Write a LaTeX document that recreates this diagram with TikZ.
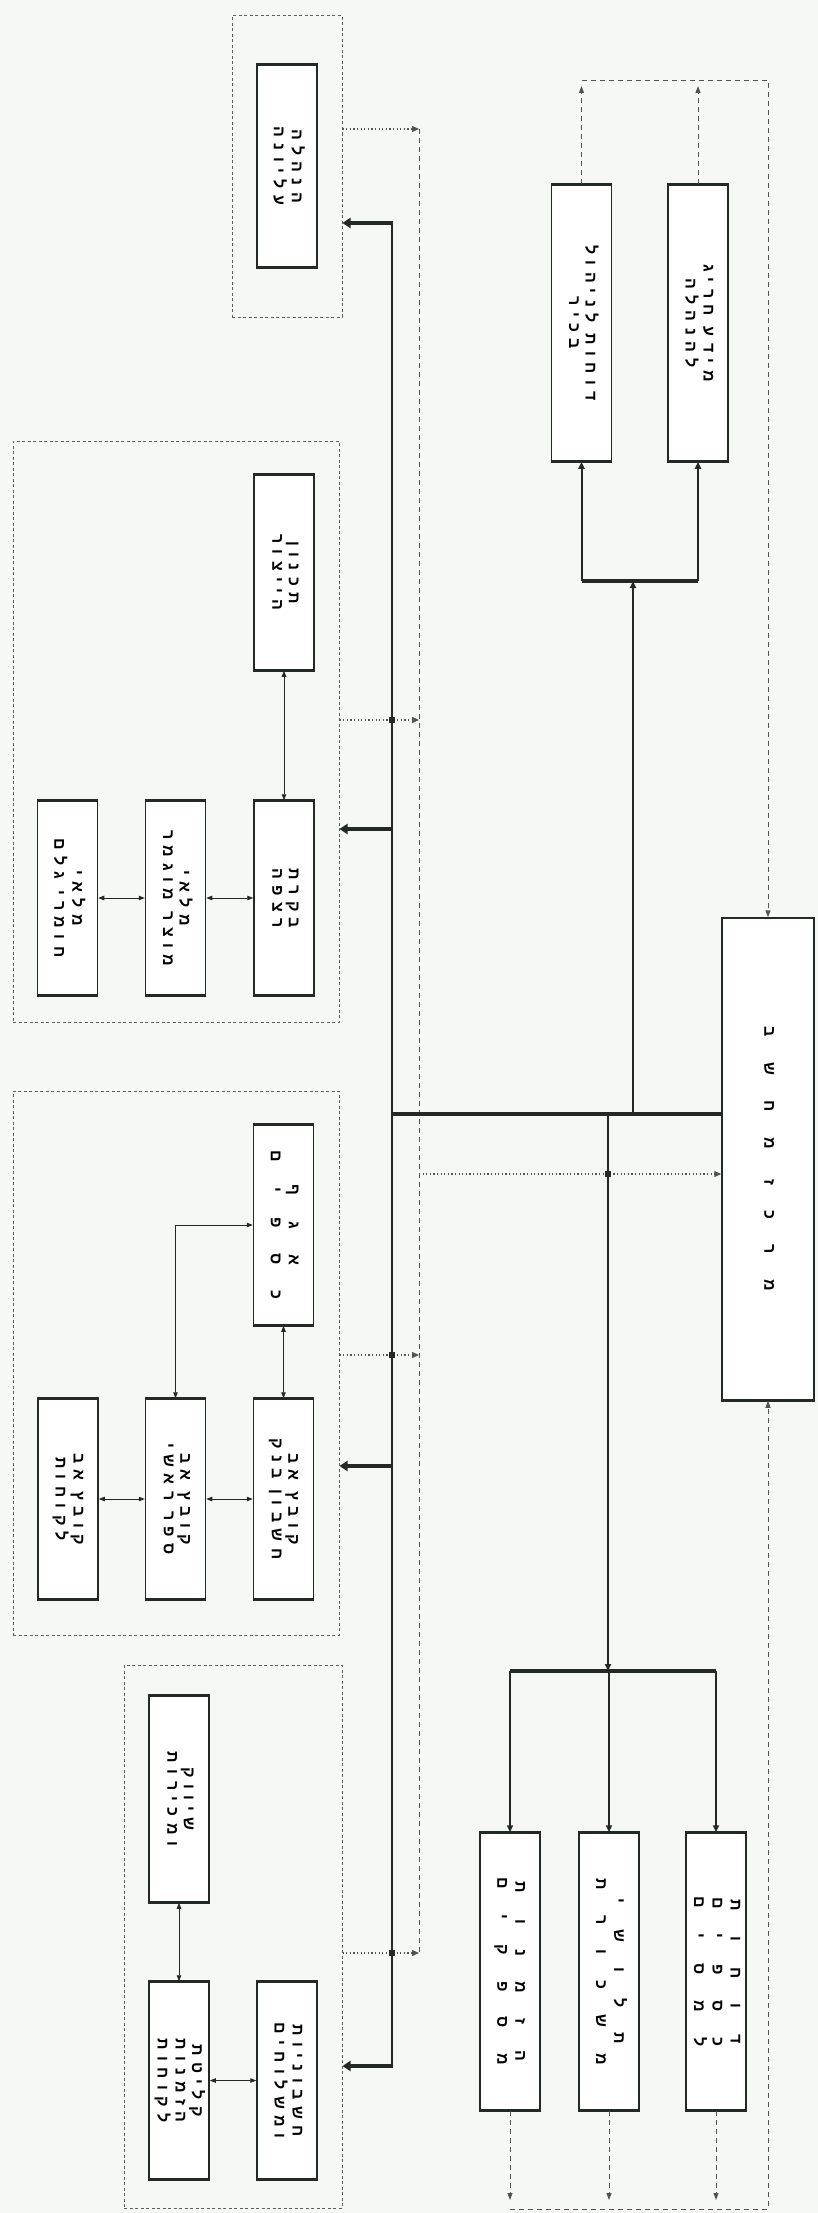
\documentclass[tikz,border=0pt]{standalone}
\usepackage{fontspec}
\usepackage{graphicx}
\usepackage{xcolor}
\usepackage{tikz}
\usetikzlibrary{arrows.meta,calc}
\TeXXeTstate=1
\newfontfamily\heb[Script=Hebrew,LetterSpace=40]{Liberation Sans}
\newfontfamily\hebwide[Script=Hebrew,LetterSpace=160]{Liberation Sans}
\definecolor{paper}{RGB}{246,248,245}
\definecolor{ink}{RGB}{35,42,38}
\newcommand{\rl}[1]{\beginR#1\endR}
\newcommand{\vtext}[1]{\rotatebox{-90}{\heb\bfseries\fontsize{16}{16.5}\selectfont\begin{tabular}{@{}c@{}}#1\end{tabular}}}
\newcommand{\vwide}[1]{\rotatebox{-90}{\hebwide\bfseries\fontsize{16}{18}\selectfont\begin{tabular}{@{}c@{}}#1\end{tabular}}}

\begin{document}
\begin{tikzpicture}[x=1pt,y=-1pt,line join=miter,
  gbox/.style={draw=ink,line width=1.5pt,fill=white,inner sep=0pt,minimum width=60pt},
  grpframe/.style={draw=ink!75,line width=1pt,dash pattern=on 3pt off 2.5pt,inner sep=0pt},
  duplex/.style={draw=ink,line width=.8pt,{Triangle[length=6pt,width=4.5pt]}-{Triangle[length=6pt,width=4.5pt]}},
  feedarr/.style={draw=ink,line width=2pt,-{Triangle[length=7pt,width=6pt]}},
  busline/.style={draw=ink,line width=2.2pt},
  busstub/.style={draw=ink,line width=4.3pt,-{Triangle[length=8pt,width=10pt]}},
  trunkline/.style={draw=ink,line width=4.5pt},
  forkline/.style={draw=ink,line width=4pt},
  collector/.style={draw=ink!80,line width=1pt,dash pattern=on 5pt off 4pt},
  dataflow/.style={draw=ink!80,line width=1.1pt,dash pattern=on 1.2pt off 2.4pt,-{Triangle[length=7pt,width=6pt]}},
  retflow/.style={draw=ink!80,line width=1pt,dash pattern=on 5pt off 4pt,-{Triangle[length=7pt,width=5pt]}}]
  \useasboundingbox (0,0) rectangle (818,2213);
  \fill[paper] (0,0) rectangle (818,2213);

  % Department frames.
  \node[grpframe,minimum width=110pt,minimum height=301pt] (grp1) at (287,166.5) {};
  \node[grpframe,minimum width=326pt,minimum height=581pt] (grp2) at (176,731.5) {};
  \node[grpframe,minimum width=326pt,minimum height=544pt] (grp3) at (176,1363) {};
  \node[grpframe,minimum width=218pt,minimum height=543pt] (grp4) at (233,1936.5) {};

  % Units inside the frames.
  \node[gbox,minimum height=202pt] (g1) at (287,166) {\vtext{\rl{הנהלה}\\\rl{עליונה}}};
  \node[gbox,minimum height=195pt] (g2t) at (284,572.5) {\vtext{\rl{תכנון}\\\rl{הייצור}}};
  \node[gbox,minimum height=194pt] (g2l) at (67.5,898) {\vtext{\rl{מלאי}\\\rl{חומרי גלם}}};
  \node[gbox,minimum height=194pt] (g2m) at (175.5,898) {\vtext{\rl{מלאי}\\\rl{מוצר מוגמר}}};
  \node[gbox,minimum height=194pt] (g2r) at (284,898) {\vtext{\rl{בקרת}\\\rl{רצפה}}};
  \node[gbox,minimum height=200pt] (g3t) at (283.5,1225) {\vwide{\rl{אגף}\\\rl{כספים}}};
  \node[gbox,minimum height=200pt] (g3l) at (68,1499) {\vtext{\rl{קובץ אב}\\\rl{לקוחות}}};
  \node[gbox,minimum height=200pt] (g3m) at (175.5,1499) {\vtext{\rl{קובץ אב}\\\rl{ספר ראשי}}};
  \node[gbox,minimum height=200pt] (g3r) at (283.5,1499) {\vtext{\rl{קובץ אב}\\\rl{חשבון בנק}}};
  \node[gbox,minimum height=206pt] (g4a) at (179,1799) {\vtext{\rl{שיווק}\\\rl{ומכירות}}};
  \node[gbox,minimum height=197pt] (g4b) at (179,2080.5) {\vtext{\rl{קליטת}\\\rl{הזמנות}\\\rl{לקוחות}}};
  \node[gbox,minimum height=197pt] (g4c) at (287,2080.5) {\vtext{\rl{חשבוניות}\\\rl{ומשלוחים}}};

  % Computer and its outputs.
  \node[gbox,minimum width=92pt,minimum height=482pt] (big) at (768,1159) {\vwide{\rl{מרכז מחשב}}};
  \node[gbox,minimum height=276pt] (rA) at (581.5,323) {\vtext{\rl{דוחות לניהול}\\\rl{בכיר}}};
  \node[gbox,minimum height=276pt] (rB) at (698,323) {\vtext{\rl{מידע חריג}\\\rl{להנהלה}}};
  \node[gbox,minimum height=277pt] (b1) at (510,1971.5) {\vwide{\rl{הזמנות}\\\rl{מספקים}}};
  \node[gbox,minimum height=277pt] (b2) at (609,1971.5) {\vwide{\rl{תלושי}\\\rl{משכורת}}};
  \node[gbox,minimum height=277pt] (b3) at (716,1971.5) {\vwide{\rl{דוחות}\\\rl{כספים}\\\rl{למסים}}};

  % Heavy short edges.
  \foreach \b in {g1,g2t,g2l,g2m,g2r,g3t,g3l,g3m,g3r,g4a,g4b,g4c,rA,rB,b1,b2,b3}
    \draw[ink,line width=3.2pt] (\b.north west) -- (\b.north east) (\b.south west) -- (\b.south east);
  \draw[ink,line width=3.2pt] (big.south west) -- (big.south east);

  % Links inside the frames.
  \draw[duplex] (g2t.south) -- (g2r.north);
  \draw[duplex] (g2l.east) -- (g2m.west);
  \draw[duplex] (g2m.east) -- (g2r.west);
  \draw[duplex] (g3t.south) -- (g3r.north);
  \draw[duplex] (g3l.east) -- (g3m.west);
  \draw[duplex] (g3m.east) -- (g3r.west);
  \draw[duplex] (g3m.north) |- (g3t.west);
  \draw[duplex] (g4a.south) -- (g4b.north);
  \draw[duplex] (g4b.east) -- (g4c.west);

  % Bus with its stubs.
  \coordinate (bustop) at (392,221);
  \coordinate (busend) at (392,2068);
  \draw[busline] (bustop) -- (busend);
  \foreach \y/\g in {223/grp1,829/grp2,1466/grp3,2066/grp4}
    \draw[busstub] (392,\y) -- (\g.east |- 0,\y);

  % Collector line and data feeds.
  \coordinate (coltop) at (419,129);
  \coordinate (colend) at (419,1953);
  \draw[collector] (coltop) -- (colend);
  \foreach \y/\g in {129/grp1,720/grp2,1355/grp3,1953/grp4}
    \draw[dataflow] (\g.east |- 0,\y) -- (coltop |- 0,\y);
  \draw[dataflow] (coltop |- 0,1174) -- (big.west |- 0,1174);

  % Trunk to the computer, and the two branches.
  \coordinate (hub) at (392,1114);
  \coordinate (upfork) at (633,581);
  \coordinate (dnfork) at (608,1671);
  \draw[trunkline] (hub) -- (big.west |- hub);
  \draw[feedarr] (upfork |- hub) -- (upfork);
  \draw[forkline] (rA.south |- upfork) -- (rB.south |- upfork);
  \foreach \b in {rA,rB}
    \draw[feedarr] (\b.south |- upfork) -- (\b.south);
  \draw[feedarr] (dnfork |- hub) -- (dnfork);
  \draw[forkline] (b1.north |- dnfork) -- (b3.north |- dnfork);
  \foreach \b in {b1,b2,b3}
    \draw[feedarr] (\b.north |- dnfork) -- (\b.north);

  % Crossing marks.
  \foreach \p in {(392,720),(392,1355),(392,1953),(608,1174)}
    \fill[ink] \p ++(-2.8,-2.8) rectangle ++(5.6,5.6);

  % Returns to the computer.
  \foreach \b in {rA,rB}
    \draw[retflow] (\b.north) -- (\b.north |- 0,86);
  \draw[retflow] (rA.north |- 0,81) -| (big.north);
  \foreach \b in {b1,b2,b3}
    \draw[retflow] (\b.south) -- (\b.south |- 0,2200);
  \draw[retflow] (b1.south |- 0,2209) -| (big.south);
\end{tikzpicture}
\end{document}
